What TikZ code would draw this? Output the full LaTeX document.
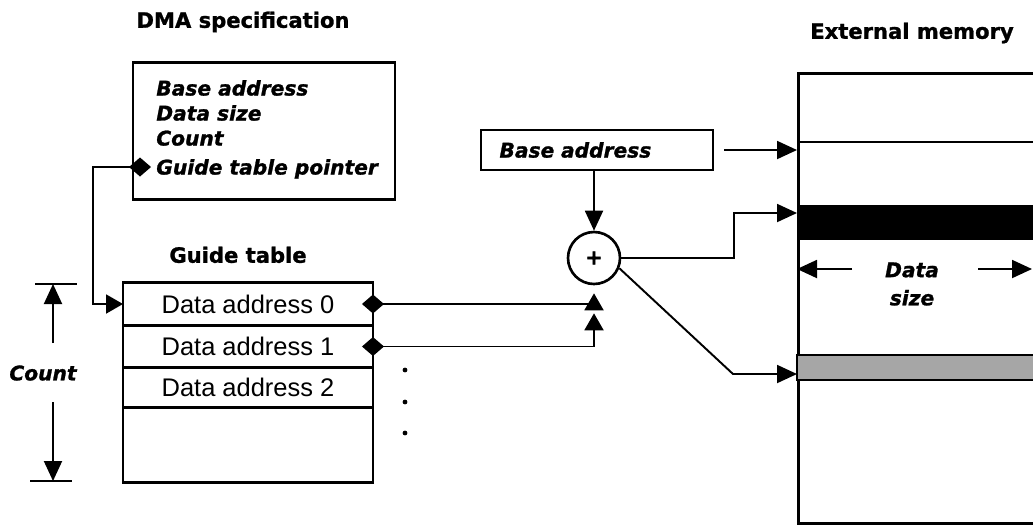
\documentclass[tikz,border=0pt]{standalone}
\usepackage{fontspec}
\setmainfont{Liberation Sans}
\newfontfamily\heavy[BoldFeatures={FakeBold=1.2},BoldItalicFeatures={FakeBold=1.2}]{DejaVu Sans}
\usetikzlibrary{arrows.meta,positioning,calc}

\tikzset{
  heading/.style={inner sep=0pt,text height=0.31cm,text depth=0pt,font=\heavy\bfseries\fontsize{12}{14}\selectfont},
  field/.style={anchor=west,inner sep=0pt,text height=0.3cm,text depth=0pt,font=\heavy\bfseries\itshape\fontsize{11.5}{13}\selectfont},
  frame/.style={draw,line width=1.5pt},
  slot/.style={frame,minimum width=5cm,minimum height=0.84cm,inner sep=0pt,outer sep=0pt,font=\fontsize{14.5}{16}\selectfont},
  feed/.style={-{Triangle[length=0.4cm,width=0.36cm]},line width=1.1pt},
  ptrlink/.style={{Diamond[length=0.44cm,width=0.38cm]}-{Triangle[length=0.34cm,width=0.38cm]},line width=1.1pt}
}

\begin{document}
\begin{tikzpicture}[x=0.02cm,y=-0.02cm]
  \useasboundingbox (0,0) rectangle (1033,529);
  \clip (0,0) rectangle (1033,529);

  % headings
  \node[heading] (spec) at (243,20) {DMA specification};
  \node[heading] (guide) at (238,255) {Guide table};
  \node[heading] (ext) at (912,31) {External memory};

  % DMA specification record
  \node[frame,minimum width=5.24cm,minimum height=2.74cm] (dma) at (264,131) {};
  \node[field] (fbase) at (156,88) {Base address};
  \node[field] (fsize) at (156,113) {Data size};
  \node[field] (fcount) at (156,138) {Count};
  \node[field] (fptr) at (156,167) {Guide table pointer};

  % guide table
  \node[slot,minimum height=0.86cm] (row0) at (248,304) {Data address 0};
  \node[slot,below=0pt of row0] (row1) {Data address 1};
  \node[slot,below=0pt of row1,minimum height=0.8cm] (row2) {Data address 2};
  \node[slot,below=0pt of row2,minimum height=1.5cm] (row3) {};
  \foreach \y in {370,402,433}
    \fill (405,\y) circle (2.4);

  % count dimension
  \coordinate (cnttop) at (53,284);
  \coordinate (cntbot) at (53,481);
  \node[font=\heavy\bfseries\itshape\fontsize{11.5}{13}\selectfont] (count) at (43,373) {Count};
  \draw[line width=1.2pt] ($(cnttop)+(-18,0)$) -- ($(cnttop)+(24,0)$);
  \draw[line width=1.2pt] ($(cntbot)+(-23,0)$) -- ($(cntbot)+(19,0)$);
  \draw[feed] ($(cnttop)+(0,59)$) -- (cnttop);
  \draw[feed] ($(cntbot)+(0,-79)$) -- (cntbot);

  % base address and adder
  \node[frame,minimum height=0.8cm,text width=3.9cm,inner xsep=0.37cm,align=left,
        font=\heavy\bfseries\itshape\fontsize{11.5}{13}\selectfont] (base) at (597,150) {Base address};
  \node[frame,circle,minimum size=1.04cm,inner sep=0pt,font=\heavy\bfseries\fontsize{12}{12}\selectfont] (adder) at (594,258) {+};
  \coordinate (in0) at ($(adder.south)+(0,8)$);
  \coordinate (in1) at ($(adder.south)+(0,28)$);

  % external memory
  \node[draw,line width=1.7pt,anchor=north west,minimum width=5.4cm,minimum height=9cm,inner sep=0pt] (mem) at (797,72) {};
  \draw[line width=1.4pt] (797,142) -- (1070,142);
  \fill (797,205) rectangle (1070,240);
  \filldraw[fill=black!35,line width=1.5pt] (797,355) rectangle (1070,380);
  \coordinate (hitbase) at (mem.west |- base.east);
  \coordinate (hitband) at (797,213);
  \coordinate (hitgray) at (797,374);

  \node[font=\heavy\bfseries\itshape\fontsize{11.5}{16}\selectfont,align=center] (dsize) at (912,284) {Data\\size};
  \coordinate (dsl) at (852,269);
  \coordinate (dsr) at (978,269);
  \coordinate (edge) at (1032,269);
  \draw[feed] (dsl) -- (dsl -| mem.west);
  \draw[feed] (dsr) -- (edge);

  % connectors
  \draw[ptrlink] ([xshift=-0.1cm]fptr.west) -- ++(-58,0) |- (row0.west);
  \draw[ptrlink] ([xshift=-0.22cm]row0.east) -| (in0);
  \draw[ptrlink] ([xshift=-0.22cm]row1.east) -| (in1);
  \draw[feed] (base.south -| adder.north) -- (adder.north);
  \draw[feed] ([xshift=0.2cm]base.east) -- (hitbase);
  \draw[feed] (adder.east) -- ++(113,0) |- (hitband);
  \draw[feed] (adder.-22) -- ($(hitgray)+(-64,0)$) -- (hitgray);
\end{tikzpicture}
\end{document}
